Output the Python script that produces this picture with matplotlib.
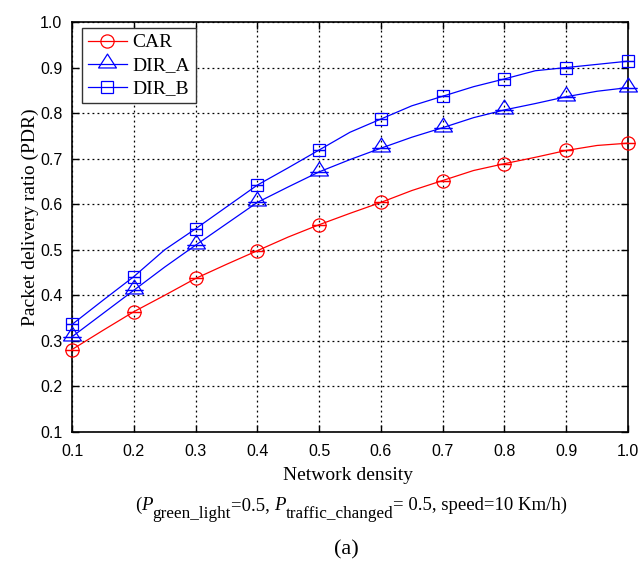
import numpy as np
import matplotlib
matplotlib.use("Agg")
import matplotlib.pyplot as plt
from matplotlib.path import Path
from matplotlib.transforms import offset_copy

plt.rcParams['font.family'] = ['Liberation Serif', 'DejaVu Serif']

# density sampled every 0.05, markers drawn every 0.1
density = [0.10, 0.15, 0.20, 0.25, 0.30, 0.35, 0.40, 0.45, 0.50, 0.55,
           0.60, 0.65, 0.70, 0.75, 0.80, 0.85, 0.90, 0.95, 1.00]
pdr_car = [0.281, 0.323, 0.364, 0.400, 0.437, 0.468, 0.498, 0.528, 0.555, 0.580,
           0.604, 0.630, 0.652, 0.674, 0.689, 0.703, 0.718, 0.729, 0.734]
pdr_dir_a = [0.309, 0.360, 0.411, 0.462, 0.510, 0.557, 0.604, 0.638, 0.671, 0.698,
             0.723, 0.747, 0.768, 0.790, 0.807, 0.821, 0.836, 0.848, 0.856]
pdr_dir_b = [0.336, 0.389, 0.441, 0.500, 0.546, 0.594, 0.642, 0.680, 0.719, 0.758,
             0.787, 0.816, 0.837, 0.858, 0.875, 0.893, 0.900, 0.907, 0.914]
ticks = [0.1, 0.2, 0.3, 0.4, 0.5, 0.6, 0.7, 0.8, 0.9, 1.0]

# triangle sitting mostly above its data point
tri = Path([(0, 10.5), (-9, -3.5), (9, -3.5), (0, 10.5)],
           [Path.MOVETO, Path.LINETO, Path.LINETO, Path.CLOSEPOLY])

series = [
    ('CAR', pdr_car, '#ff0000', 'o', 9.5, 4.8),
    ('DIR_A', pdr_dir_a, '#0000ff', tri, 15, 6.5),
    ('DIR_B', pdr_dir_b, '#0000ff', 's', 8.8, 4.4),
]

fig = plt.figure(figsize=(6.41, 5.68), dpi=100)
ax = fig.add_axes([72 / 641, 1 - 432 / 568, 556 / 641, 410 / 568])

x = np.array(density)
for name, vals, col, mk, ms, cap in series:
    y = np.array(vals)
    ax.plot(x, y, color=col, lw=0.9, marker=mk, ms=ms, mfc='none', mec=col,
            mew=0.9, markevery=2, label=name, clip_on=False, zorder=3)
    # zero-length error bars leave a short bar across each marker
    ax.errorbar(x[::2], y[::2], yerr=0, fmt='none', ecolor=col, elinewidth=0.9,
                capsize=cap, capthick=0.9, clip_on=False, zorder=3)

ax.set_xlim(0.1, 1.0)
ax.set_ylim(0.1, 1.0)
ax.set_xticks(ticks)
ax.set_yticks(ticks)
ax.set_xticklabels([f'{t:.1f}' for t in ticks], family='Liberation Sans', fontsize=11.5)
ax.set_yticklabels([f'{t:.1f}' for t in ticks], family='Liberation Sans', fontsize=11.5)
ax.tick_params(direction='in', length=5, width=1, top=True, right=True)
ax.tick_params(axis='x', pad=9)
ax.tick_params(axis='y', pad=7)
ax.grid(True, color='black', linestyle=(0, (1.5, 2.5)), linewidth=0.9)
for s in ax.spines.values():
    s.set_linewidth(1.2)

leg = ax.legend(loc='upper left', bbox_to_anchor=(10 / 556, 1 - 6 / 410), borderaxespad=0,
                fontsize=14, handlelength=2.0, handletextpad=0.3, labelspacing=0.28,
                borderpad=0.3, fancybox=False, framealpha=1)
leg.get_frame().set_edgecolor('#333333')
leg.get_frame().set_linewidth(1.0)

fig.text(30 / 641, 1 - 217 / 568, 'Packet delivery ratio (PDR)', rotation=90,
         ha='center', va='center', fontsize=14)
fig.text(348 / 641, 1 - 475 / 568, 'Network density', ha='center', va='center', fontsize=14)

# parameter line: pieces laid out one after another, subscripts dropped below baseline
pieces = [('(', 13.5, 'normal', 0), ('P', 13.5, 'italic', 0),
          ('green_light', 12.3, 'normal', -6), ('=0.5, ', 13.5, 'normal', 0),
          ('P', 13.5, 'italic', 0), ('traffic_changed', 12.3, 'normal', -6),
          ('= 0.5, speed=10 Km/h)', 13.5, 'normal', 0)]
renderer = fig.canvas.get_renderer()
base_y = 1 - 510 / 568
cursor = 0.0
items = []
for txt, size, style, drop in pieces:
    t = fig.text(0, base_y, txt, fontsize=size, style=style, va='baseline',
                 transform=offset_copy(fig.transFigure, fig=fig, x=cursor, y=drop, units='points'))
    w = t.get_window_extent(renderer).width * 72 / fig.dpi
    items.append((t, cursor, drop))
    cursor += w
shift = 351 / 641 * fig.get_figwidth() * 72 - cursor / 2
for t, cx, drop in items:
    t.set_transform(offset_copy(fig.transFigure, fig=fig, x=cx + shift, y=drop, units='points'))
    t.set_x(0)

fig.text(346 / 641, 1 - 550 / 568, '(a)', ha='center', va='center', fontsize=16)

fig.savefig('out.png', dpi=100)
